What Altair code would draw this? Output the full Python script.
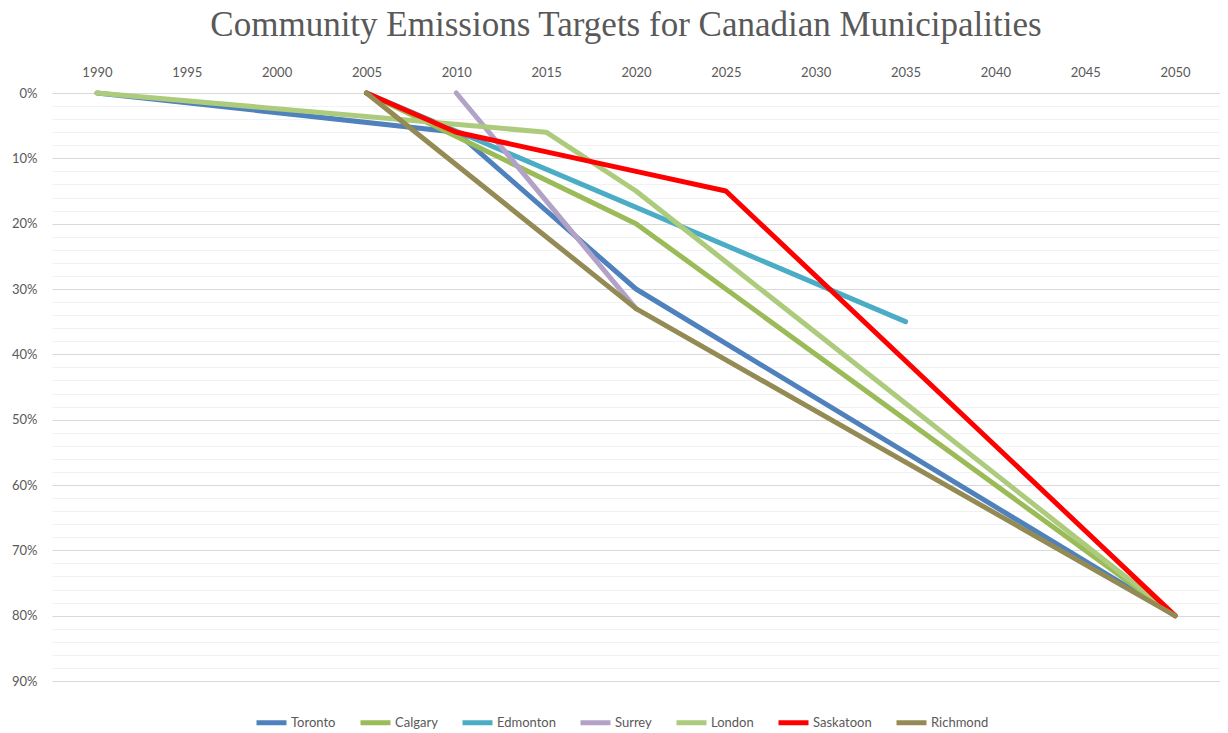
import altair as alt
import pandas as pd

years = ["1990", "1995", "2000", "2005", "2010", "2015", "2020", "2025", "2030", "2035", "2040", "2045", "2050"]
cities = ["Toronto", "Calgary", "Edmonton", "Surrey", "London", "Saskatoon", "Richmond"]
colors = ["#4F81BD", "#9BBB59", "#4BACC6", "#B3A2C7", "#ADCB7C", "#FF0000", "#948A54"]

toronto_years = ["1990", "2010", "2020", "2050"]
toronto_vals = [0.0, 0.06, 0.30, 0.80]
calgary_years = ["2005", "2020", "2050"]
calgary_vals = [0.0, 0.20, 0.80]
edmonton_years = ["2005", "2035"]
edmonton_vals = [0.0, 0.35]
surrey_years = ["2010", "2020"]
surrey_vals = [0.0, 0.33]
london_years = ["1990", "2015", "2020", "2050"]
london_vals = [0.0, 0.06, 0.15, 0.80]
saskatoon_years = ["2005", "2010", "2020", "2025", "2050"]
saskatoon_vals = [0.0, 0.06, 0.12, 0.15, 0.80]
richmond_years = ["2005", "2020", "2050"]
richmond_vals = [0.0, 0.33, 0.80]

y_ticks = [i / 100 for i in range(0, 91, 2)]

series = [
    ("Toronto", toronto_years, toronto_vals),
    ("Calgary", calgary_years, calgary_vals),
    ("Edmonton", edmonton_years, edmonton_vals),
    ("Surrey", surrey_years, surrey_vals),
    ("London", london_years, london_vals),
    ("Saskatoon", saskatoon_years, saskatoon_vals),
    ("Richmond", richmond_years, richmond_vals),
]
rows = []
for idx, (name, ys, vs) in enumerate(series):
    for yr, v in zip(ys, vs):
        rows.append({"City": name, "Year": yr, "Value": v, "order": idx})
df = pd.DataFrame(rows)

label_color = "#595959"

chart = (
    alt.Chart(df)
    .mark_line(strokeWidth=5, strokeCap="round", strokeJoin="round")
    .encode(
        x=alt.X(
            "Year:O",
            scale=alt.Scale(domain=years, type="point", padding=0.5),
            axis=alt.Axis(
                orient="top", title=None, labelAngle=0, domain=False, ticks=False,
                labelPadding=14, labelFont="Lato", labelFontSize=13, labelColor=label_color,
            ),
        ),
        y=alt.Y(
            "Value:Q",
            scale=alt.Scale(domain=[0, 0.9], reverse=True, nice=False),
            axis=alt.Axis(
                title=None, values=y_ticks, format=".0%", domain=False, ticks=False,
                labelExpr="round(datum.value*100) % 10 === 0 ? datum.label : ''",
                labelPadding=15, labelFont="Lato", labelFontSize=13, labelColor=label_color,
                minExtent=44, maxExtent=44,
                gridColor=alt.condition("round(datum.value*100) % 10 === 0", alt.value("#D9D9D9"), alt.value("#F2F2F2")),
                gridWidth=1.2,
            ),
        ),
        color=alt.Color(
            "City:N",
            scale=alt.Scale(domain=cities, range=colors),
            sort=cities,
            legend=alt.Legend(
                title=None, orient="none", direction="horizontal",
                legendX=202, legendY=612,
                symbolType="stroke", symbolStrokeWidth=5, symbolSize=900,
                labelFont="Lato", labelFontSize=13, labelColor=label_color,
                columnPadding=14, symbolOffset=0, labelOffset=2,
            ),
        ),
        order=alt.Order("order:Q"),
        detail="City:N",
    )
    .properties(
        width=1168,
        height=588,
        padding=0,
        title=alt.TitleParams(
            "Community Emissions Targets for Canadian Municipalities",
            font="Liberation Serif", fontSize=35, fontWeight="normal",
            color=label_color, anchor="middle", offset=23, dx=-10,
        ),
    )
    .configure_view(stroke=None)
)

chart.save("out.html", embed_options={"renderer": "svg", "actions": False})
